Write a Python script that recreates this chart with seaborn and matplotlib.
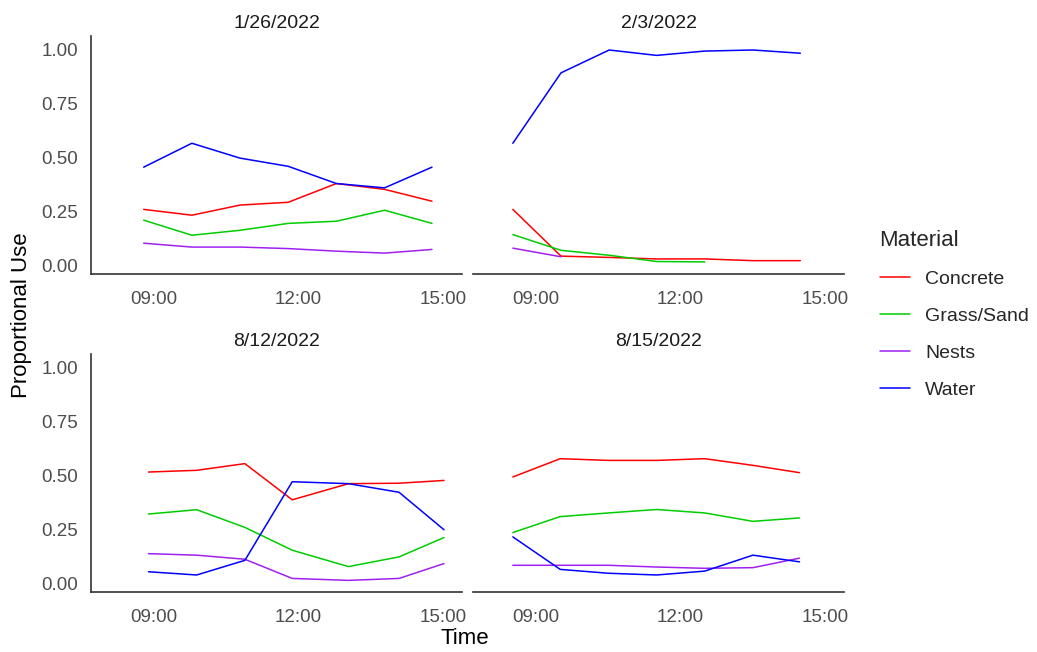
import numpy as np
import pandas as pd
import seaborn as sns
import matplotlib.pyplot as plt

# (1) data
dates = ['1/26/2022', '2/3/2022', '8/12/2022', '8/15/2022']
materials = ['Concrete', 'Grass/Sand', 'Nests', 'Water']

times_0126 = ['08:47', '09:47', '10:47', '11:47', '12:47', '13:47', '14:46']
concrete_0126 = [0.26, 0.233, 0.28, 0.293, 0.38, 0.353, 0.298]
grass_0126 = [0.21, 0.14, 0.163, 0.195, 0.205, 0.256, 0.195]
nests_0126 = [0.103, 0.085, 0.085, 0.078, 0.066, 0.057, 0.074]
water_0126 = [0.456, 0.567, 0.498, 0.46, 0.38, 0.36, 0.456]

times_0203 = ['08:31', '09:31', '10:31', '11:30', '12:30', '13:30', '14:29']
concrete_0203 = [0.26, 0.043, 0.037, 0.03, 0.03, 0.022, 0.022]
grass_0203 = [0.143, 0.07, 0.047, 0.018, 0.016, None, None]
nests_0203 = [0.08, 0.04, None, None, None, None, None]
water_0203 = [0.567, 0.894, 1.0, 0.975, 0.995, 1.0, 0.985]

times_0812 = ['08:53', '09:53', '10:53', '11:52', '13:02', '14:05', '15:01']
concrete_0812 = [0.517, 0.525, 0.556, 0.388, 0.463, 0.465, 0.478]
grass_0812 = [0.322, 0.342, 0.26, 0.154, 0.078, 0.123, 0.213]
nests_0812 = [0.138, 0.131, 0.112, 0.023, 0.014, 0.023, 0.092]
water_0812 = [0.054, 0.039, 0.107, 0.472, 0.463, 0.423, 0.249]

times_0815 = ['08:31', '09:30', '10:30', '11:30', '12:30', '13:30', '14:28']
concrete_0815 = [0.494, 0.579, 0.571, 0.571, 0.579, 0.548, 0.514]
grass_0815 = [0.236, 0.31, 0.327, 0.343, 0.327, 0.288, 0.304]
nests_0815 = [0.084, 0.084, 0.084, 0.076, 0.07, 0.073, 0.117]
water_0815 = [0.216, 0.065, 0.047, 0.039, 0.057, 0.131, 0.1]

tick_hours = [9, 12, 15]
tick_labels = ['09:00', '12:00', '15:00']

# (2) long table
panels = {
    '1/26/2022': (times_0126, [concrete_0126, grass_0126, nests_0126, water_0126]),
    '2/3/2022': (times_0203, [concrete_0203, grass_0203, nests_0203, water_0203]),
    '8/12/2022': (times_0812, [concrete_0812, grass_0812, nests_0812, water_0812]),
    '8/15/2022': (times_0815, [concrete_0815, grass_0815, nests_0815, water_0815]),
}
rows = []
for d, (times, series) in panels.items():
    for m, vals in zip(materials, series):
        for t, v in zip(times, vals):
            h, mi = t.split(':')
            rows.append({'Date': d, 'Hour': int(h) + int(mi) / 60, 'Material': m, 'Use': v})
df = pd.DataFrame(rows).dropna()

palette = {'Concrete': '#FF0000', 'Grass/Sand': '#00CD00', 'Nests': '#A020F0', 'Water': '#0000FF'}

# (3) plot
sns.set_style('white')
plt.rcParams['font.family'] = ['Liberation Sans', 'DejaVu Sans']

fig = plt.figure(figsize=(10.37, 6.52), dpi=100)
W, H = 1037, 652
boxes = [(91, 36), (473, 36), (91, 354), (473, 354)]  # left, top in pixels
pw, ph = 371, 238

for i, d in enumerate(dates):
    x0, y0 = boxes[i]
    ax = fig.add_axes([x0 / W, 1 - (y0 + ph) / H, pw / W, ph / H])
    sns.lineplot(data=df[df['Date'] == d], x='Hour', y='Use', hue='Material',
                 hue_order=materials, palette=palette, lw=1.1, ax=ax, legend=(i == 0))
    ax.set_xlim(7.69, 15.39)
    ax.set_ylim(-0.04, 1.065)
    ax.set_xticks(tick_hours)
    ax.set_xticklabels(tick_labels)
    ax.set_yticks([0, 0.25, 0.5, 0.75, 1.0])
    ax.set_yticklabels(['0.00', '0.25', '0.50', '0.75', '1.00'])
    ax.tick_params(length=0, labelsize=13.5, labelcolor='#4D4D4D')
    ax.tick_params(axis='x', pad=12)
    ax.tick_params(axis='y', pad=9)
    ax.set_xlabel('')
    ax.set_ylabel('')
    ax.set_title(d, fontsize=14, color='#1A1A1A', pad=6)
    for s in ['top', 'right']:
        ax.spines[s].set_visible(False)
    ax.spines['bottom'].set_color('#333333')
    ax.spines['left'].set_color('#333333')
    ax.spines['bottom'].set_linewidth(1.2)
    ax.spines['left'].set_linewidth(1.2)
    if i % 2 == 1:
        ax.spines['left'].set_visible(False)
        ax.set_yticklabels([])
    if i == 0:
        handles, labels = ax.get_legend_handles_labels()
        ax.get_legend().remove()

fig.text(465 / W, 1 - 638 / H, 'Time', ha='center', va='center', fontsize=16, color='black')
fig.text(22 / W, 1 - 315 / H, 'Proportional Use', ha='center', va='center',
         rotation=90, fontsize=16, color='black')

leg = fig.legend(handles, labels, title='Material', loc='upper left',
                 bbox_to_anchor=(862 / W, 1 - 212 / H), frameon=False,
                 fontsize=14, title_fontsize=16, handlelength=1.55,
                 handletextpad=0.8, labelspacing=1.0, alignment='left')
for line in leg.get_lines():
    line.set_linewidth(1.1)

fig.savefig('out.png', dpi=100)
